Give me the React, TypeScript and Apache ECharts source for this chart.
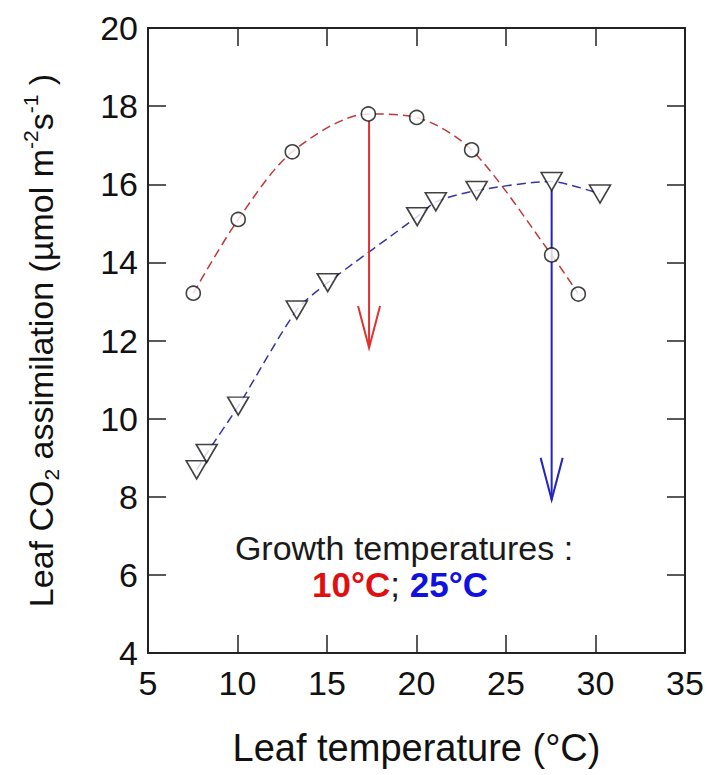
import React, { useEffect, useRef } from "react";
import * as echarts from "echarts";

const FONT = "Liberation Sans, Arial, sans-serif";

// Growth temperature 10°C (open circles, red dashed curve)
const redX = [7.53, 10.04, 13.06, 17.31, 20.01, 23.08, 27.55, 29.04];
const redY = [13.21, 15.1, 16.83, 17.8, 17.71, 16.88, 14.19, 13.19];

// Growth temperature 25°C (open down-triangles, blue dashed curve)
const blueX = [7.72, 8.28, 10.04, 13.31, 15.04, 20.04, 21.08, 23.36, 27.55, 30.25];
const blueY = [8.69, 9.11, 10.32, 12.78, 13.48, 15.17, 15.55, 15.84, 16.07, 15.75];

// Arrows: [x, yStart, yEnd]
const arrowX = [17.35, 27.55];
const arrowStart = [17.62, 15.85];
const arrowEnd = [11.81, 7.92];
const arrowColors = ["#e03030", "#2424c0"];

const xTicks = { min: 5, max: 35, interval: 5 };
const yTicks = { min: 4, max: 20, interval: 2 };

export default function App() {
  const ref = useRef<HTMLDivElement>(null);
  useEffect(() => {
    if (!ref.current) return;
    const chart = echarts.init(ref.current, undefined, { renderer: "svg" });
    const zip = (xs: number[], ys: number[]) => xs.map((x, i) => [x, ys[i]]);
    const axisLine = { show: true, onZero: false, lineStyle: { color: "#222", width: 2 } };
    const axisTick = { show: true, inside: true, length: 18, lineStyle: { color: "#222", width: 1.5 } };
    const label = { fontSize: 34, color: "#111", fontFamily: FONT };
    const arrowData = arrowX.map((x, i) => [x, arrowStart[i], arrowEnd[i], i]);
    chart.setOption({
      animation: false,
      backgroundColor: "#fff",
      grid: { left: 148, top: 28, right: 22, bottom: 122, containLabel: false, outerBoundsMode: "none" },
      xAxis: [
        {
          type: "value", ...xTicks, position: "bottom",
          axisLine, axisTick,
          axisLabel: { ...label, margin: 13 },
          splitLine: { show: false },
          name: "Leaf temperature (°C)", nameLocation: "middle", nameGap: 76,
          nameTextStyle: { fontSize: 38, color: "#111", fontFamily: FONT },
        },
        {
          type: "value", ...xTicks, position: "top",
          axisLine, axisTick, axisLabel: { show: false }, splitLine: { show: false },
        },
      ],
      yAxis: [
        {
          type: "value", ...yTicks, position: "left",
          axisLine, axisTick,
          axisLabel: { ...label, margin: 10 },
          splitLine: { show: false },
          name: "{n|Leaf CO}{sub|2}{n| assimilation (µmol m}{sup|-2}{n|s}{sup|-1}{n| )}",
          nameLocation: "middle", nameGap: 86,
          nameTextStyle: {
            color: "#111", fontFamily: FONT,
            rich: {
              n: { fontSize: 34, lineHeight: 42, fontFamily: FONT, color: "#111" },
              sub: { fontSize: 21, lineHeight: 25, verticalAlign: "bottom", fontFamily: FONT, color: "#111" },
              sup: { fontSize: 21, lineHeight: 23, verticalAlign: "top", fontFamily: FONT, color: "#111" },
            },
          },
        },
        {
          type: "value", ...yTicks, position: "right",
          axisLine, axisTick, axisLabel: { show: false }, splitLine: { show: false },
        },
      ],
      series: [
        {
          type: "line", data: zip(redX, redY), smooth: 0.3, showSymbol: false, z: 2,
          lineStyle: { color: "#c03838", width: 1.5, type: [9, 5] },
        },
        {
          type: "line", data: zip(blueX, blueY), smooth: 0.25, showSymbol: false, z: 2,
          lineStyle: { color: "#3535a5", width: 1.5, type: [9, 5] },
        },
        {
          type: "custom", z: 3, data: arrowData,
          renderItem: (params: any, api: any) => {
            const x = api.value(0);
            const p1 = api.coord([x, api.value(1)]);
            const p2 = api.coord([x, api.value(2)]);
            const c = arrowColors[api.value(3)];
            return {
              type: "group",
              children: [
                { type: "line", shape: { x1: p1[0], y1: p1[1], x2: p2[0], y2: p2[1] }, style: { stroke: c, lineWidth: 2 } },
                {
                  type: "polyline",
                  shape: { points: [[p2[0] - 11, p2[1] - 42], [p2[0], p2[1]], [p2[0] + 11, p2[1] - 42]] },
                  style: { stroke: c, lineWidth: 2, fill: null },
                },
              ],
            };
          },
        },
        {
          type: "scatter", data: zip(redX, redY), z: 4, symbol: "circle", symbolSize: 14,
          itemStyle: { color: "#fff", borderColor: "#111", borderWidth: 1.6 },
        },
        {
          type: "scatter", data: zip(blueX, blueY), z: 4, symbol: "triangle", symbolRotate: 180, symbolSize: [21, 18],
          itemStyle: { color: "#fff", borderColor: "#111", borderWidth: 1.6 },
        },
      ],
      graphic: [
        {
          type: "text", x: 404, y: 548, z: 10,
          style: { text: "Growth temperatures :", fontSize: 34, fontFamily: FONT, fill: "#1a1a1a", align: "center", verticalAlign: "middle" },
        },
        {
          type: "text", x: 400, y: 584, z: 10,
          style: {
            text: "{r|10°C}{k|; }{b|25°C}", align: "center", verticalAlign: "middle", fontSize: 35, fontFamily: FONT,
            rich: {
              r: { fontSize: 35, fontWeight: "bold", fill: "#e01010", fontFamily: FONT },
              k: { fontSize: 35, fill: "#1a1a1a", fontFamily: FONT },
              b: { fontSize: 35, fontWeight: "bold", fill: "#1010e0", fontFamily: FONT },
            },
          },
        },
      ],
    });
    return () => chart.dispose();
  }, []);
  return <div ref={ref} style={{ position: "fixed", left: 0, top: 0, width: 707, height: 775 }} />;
}
